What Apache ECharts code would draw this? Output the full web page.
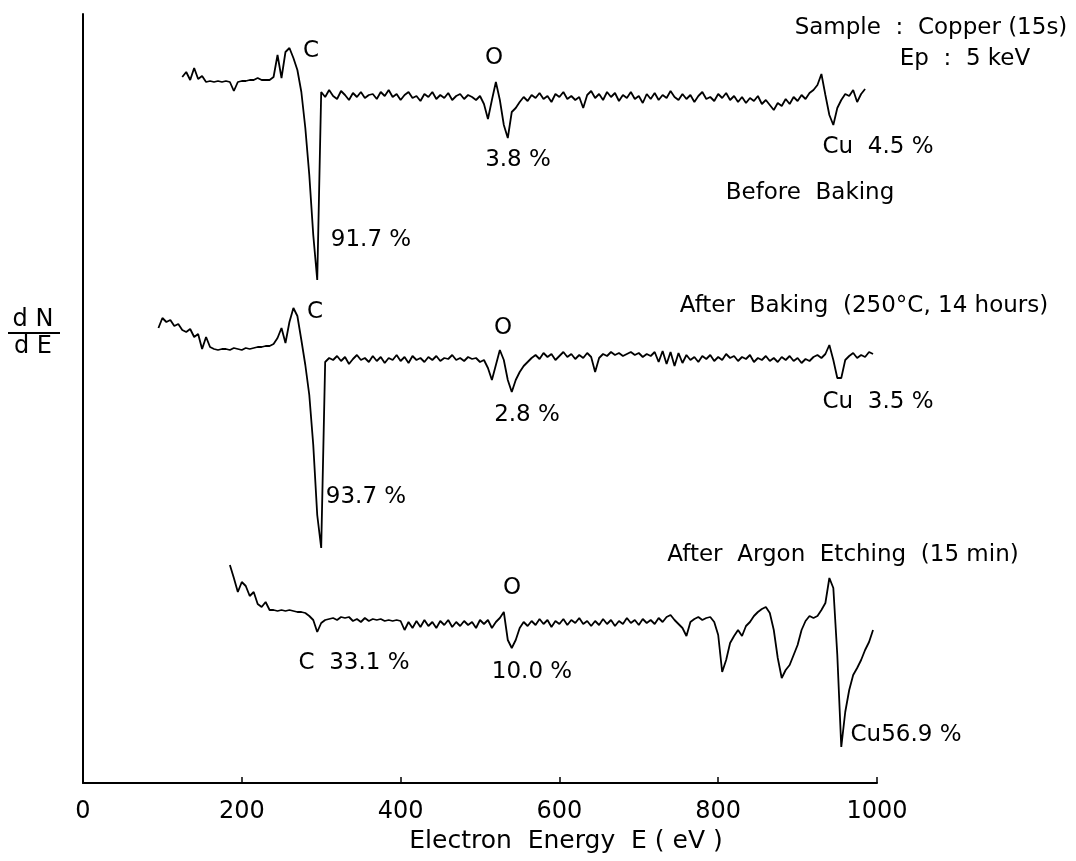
<!DOCTYPE html>
<html>
<head>
<meta charset="utf-8">
<script src="https://cdn.jsdelivr.net/npm/echarts@6/dist/echarts.min.js"></script>
<style>
html,body{margin:0;padding:0;background:#fff;}
#chart{width:1076px;height:861px;}
</style>
</head>
<body>
<div id="chart"></div>
<script>
const energyStep = 5;
const xTickValues = [0, 200, 400, 600, 800, 1000];

// dN/dE (arbitrary units, spectra stacked as in the figure)
const beforeBakingStart = 125;
const beforeBaking = [
  706,711,703,715,704,707,701,702,701,702,
  701,702,701,692,701,702,702,703,703,705,
  703,703,703,706,728,705,731,735,725,713,
  691,655,608,548,503,691,686,693,687,684,
  692,688,683,690,686,691,685,688,689,684,
  691,687,693,686,689,683,688,691,685,687,
  682,689,686,691,684,688,685,690,683,687,
  689,684,688,686,683,687,679,664,683,701,
  683,658,645,671,675,681,686,682,688,685,
  690,684,687,681,689,686,691,684,687,683,
  686,675,688,692,685,689,683,691,686,690,
  682,688,685,691,684,687,680,689,684,690,
  683,688,685,692,686,683,689,684,688,681,
  687,691,684,686,682,689,685,690,683,687,
  681,686,680,685,682,687,679,683,678,673,
  680,677,684,679,686,682,688,684,690,693,
  698,709,688,668,658,675,683,689,687,693,
  681,689,694
];

const afterBakingStart = 95;
const afterBaking = [
  455,465,461,463,457,459,453,451,454,446,
  449,434,446,436,434,433,434,434,433,435,
  434,433,435,434,435,436,436,437,437,439,
  445,455,440,461,475,467,443,418,388,338,
  268,235,421,425,423,427,422,426,419,424,
  428,423,425,421,427,422,426,420,425,423,
  428,422,426,420,427,423,425,421,426,423,
  427,422,425,424,428,423,425,422,426,424,
  425,421,423,415,403,418,433,423,403,391,
  403,411,417,421,425,428,424,430,426,429,
  423,427,431,426,429,424,428,425,430,426,
  411,425,429,427,431,428,430,427,429,431,
  428,430,426,429,427,431,421,432,419,431,
  417,430,420,428,423,426,421,427,424,428,
  422,426,423,429,425,427,422,426,424,428,
  421,425,423,427,422,425,421,426,423,427,
  422,425,420,424,422,426,428,425,429,438,
  423,405,405,423,427,430,425,428,426,431,
  429
];

const afterEtchingStart = 185;
const afterEtching = [
  218,205,191,201,197,187,191,179,176,181,
  173,173,172,173,172,173,172,171,171,170,
  167,163,151,160,163,164,165,163,166,165,
  166,162,164,161,165,162,164,163,164,162,
  163,162,163,162,153,161,155,162,156,163,
  157,161,155,162,158,163,156,161,157,162,
  158,161,155,163,159,163,155,161,165,171,
  143,135,143,155,161,157,162,158,164,159,
  163,156,162,159,164,158,163,160,165,159,
  162,157,162,158,164,159,163,157,162,159,
  165,160,163,158,164,160,163,159,165,161,
  166,168,163,159,155,147,161,164,166,163,
  165,166,161,148,111,123,140,147,153,147,
  157,161,167,171,174,176,170,153,125,105,
  113,118,128,138,153,162,167,165,167,173,
  180,205,195,128,36,71,93,108,115,123,
  133,141,153
];

// Annotation texts
const annotations = [
  {text: 'Sample  :  Copper (15s)', x: 931, y: 28},
  {text: 'Ep  :  5 keV', x: 965, y: 59},
  {text: 'C', x: 311, y: 51},
  {text: 'O', x: 494, y: 58},
  {text: '3.8 %', x: 518, y: 160},
  {text: 'Cu  4.5 %', x: 878, y: 147},
  {text: 'Before  Baking', x: 810, y: 193},
  {text: '91.7 %', x: 371, y: 240},
  {text: 'After  Baking  (250°C, 14 hours)', x: 864, y: 306},
  {text: 'C', x: 315, y: 312},
  {text: 'O', x: 503, y: 328},
  {text: '2.8 %', x: 527, y: 415},
  {text: 'Cu  3.5 %', x: 878, y: 402},
  {text: '93.7 %', x: 366, y: 497},
  {text: 'After  Argon  Etching  (15 min)', x: 843, y: 555},
  {text: 'O', x: 512, y: 588},
  {text: 'C  33.1 %', x: 354, y: 663},
  {text: '10.0 %', x: 532, y: 672},
  {text: 'Cu56.9 %', x: 906, y: 735}
];

function toPairs(start, values) {
  return values.map((v, i) => [start + i * energyStep, v]);
}

const FONT = 'DejaVu Sans';
const chart = echarts.init(document.getElementById('chart'), null, {renderer: 'canvas'});

const graphics = annotations.map(a => ({
  type: 'text', x: a.x, y: a.y, silent: true,
  style: {text: a.text, fill: '#000', font: '23px "' + FONT + '"', align: 'center', verticalAlign: 'middle'}
}));
graphics.push(
  {type: 'text', x: 33, y: 320, style: {text: 'd N', fill: '#000', font: '24px "' + FONT + '"', align: 'center', verticalAlign: 'middle'}},
  {type: 'line', shape: {x1: 8, y1: 333, x2: 60, y2: 333}, style: {stroke: '#000', lineWidth: 2}},
  {type: 'text', x: 33, y: 347, style: {text: 'd E', fill: '#000', font: '24px "' + FONT + '"', align: 'center', verticalAlign: 'middle'}},
  {type: 'text', x: 566, y: 841, style: {text: 'Electron  Energy  E ( eV )', fill: '#000', font: '25px "' + FONT + '"', align: 'center', verticalAlign: 'middle'}}
);

const lineStyle = {color: '#000', width: 1.8};
chart.setOption({
  animation: false,
  backgroundColor: '#fff',
  grid: {left: 83, top: 14, width: 794, height: 769, containLabel: false},
  xAxis: {
    type: 'value', min: xTickValues[0], max: xTickValues[xTickValues.length - 1], interval: 200,
    axisLine: {show: true, lineStyle: {color: '#000', width: 2}},
    axisTick: {show: true, inside: true, length: 6, lineStyle: {color: '#000', width: 1.5}},
    axisLabel: {color: '#000', fontSize: 24, fontFamily: FONT, margin: 17, formatter: v => String(v)},
    splitLine: {show: false}
  },
  yAxis: {
    type: 'value', min: 0, max: 769,
    axisLine: {show: true, lineStyle: {color: '#000', width: 2}},
    axisTick: {show: false}, axisLabel: {show: false}, splitLine: {show: false}
  },
  series: [
    {name: 'Before Baking', type: 'line', showSymbol: false, lineStyle, data: toPairs(beforeBakingStart, beforeBaking)},
    {name: 'After Baking', type: 'line', showSymbol: false, lineStyle, data: toPairs(afterBakingStart, afterBaking)},
    {name: 'After Argon Etching', type: 'line', showSymbol: false, lineStyle, data: toPairs(afterEtchingStart, afterEtching)}
  ],
  graphic: graphics
});
</script>
</body>
</html>
